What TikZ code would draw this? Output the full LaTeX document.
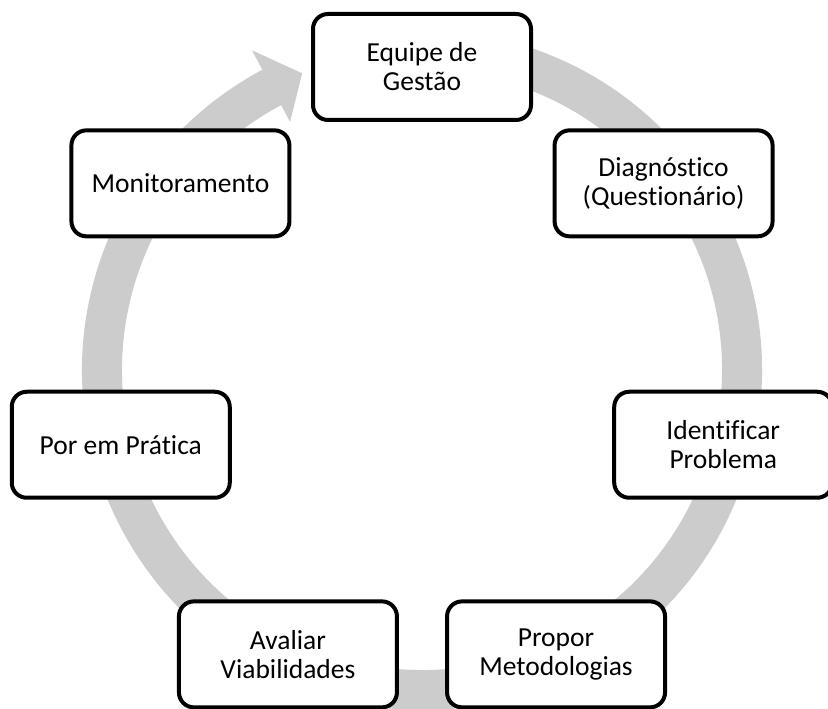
\documentclass[tikz,border=0pt]{standalone}
\usepackage{fontspec}
\setmainfont{Carlito}[Ligatures={NoCommon,NoRare,NoContextual}]
\definecolor{ringgray}{RGB}{204,204,204}
\tikzset{
  stagebox/.style={draw=black, line width=4pt, fill=white, rounded corners=15pt,
    minimum width=218pt, minimum height=106pt, align=center,
    font=\fontsize{27.5}{29}\selectfont, inner sep=0pt},
}
\begin{document}
\begin{tikzpicture}[x=1pt,y=1pt]
\useasboundingbox (0,0) rectangle (828,709);
\clip (0,0) rectangle (828,709);
\fill[white] (0,0) rectangle (828,709);
% circular arrow ring
\begin{scope}[shift={(422,339)}]
  \fill[ringgray] (75:340) arc[start angle=75, end angle=-242, radius=340]
    -- (-242:362) -- (-248:320) -- (-242:281) -- (-242:300)
    arc[start angle=-242, end angle=75, radius=300] -- cycle;
\end{scope}
% stages
\begin{scope}[shift={(422,333)}]
  \node[stagebox] (n1) at (90:309) {Equipe de\\Gestão};
  \node[stagebox] (n2) at (38.571:309) {Diagnóstico\\(Questionário)};
  \node[stagebox] (n3) at (-12.857:309) {Identificar\\Problema};
  \node[stagebox] (n4) at (-64.286:309) {Propor\\Metodologias};
  \node[stagebox] (n5) at (-115.714:309) {Avaliar\\Viabilidades};
  \node[stagebox] (n6) at (-167.143:309) {Por em Prática};
  \node[stagebox] (n7) at (141.429:309) {Monitoramento};
\end{scope}
\end{tikzpicture}
\end{document}
